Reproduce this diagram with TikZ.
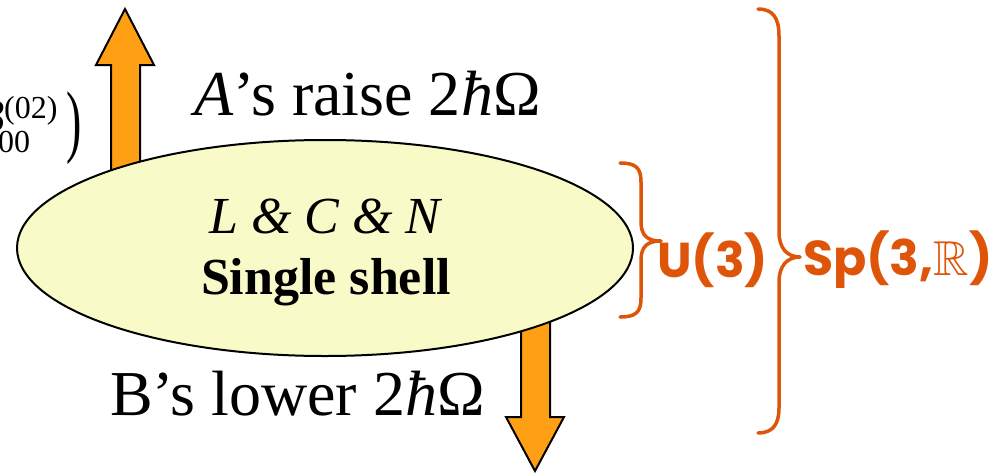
\documentclass[tikz,border=0pt]{standalone}
\usepackage{fontspec}
\usepackage{amssymb}
\setmainfont{Liberation Serif}
\newfontfamily\handfont{Poppins}
\usetikzlibrary{shapes.geometric}
\definecolor{shellfill}{RGB}{248,250,200}
\definecolor{arrowfill}{RGB}{255,160,20}
\definecolor{groupcol}{RGB}{222,84,8}
\tikzset{
  shell/.style={ellipse, draw=black, line width=2pt, fill=shellfill,
    minimum width=616pt, minimum height=216pt, inner sep=0pt},
  bigarrow/.style={draw=black, line width=2pt, fill=arrowfill, line join=miter},
  label/.style={inner sep=0pt, font=\fontsize{64}{76}\selectfont},
  shelltext/.style={inner sep=0pt, font=\fontsize{52}{60}\selectfont},
  brace/.style={draw=groupcol, line width=3.5pt, line cap=round, line join=round},
  group/.style={inner sep=0pt, text=groupcol, font=\handfont\bfseries\fontsize{49}{56}\selectfont},
  smalltext/.style={inner sep=0pt, font=\fontsize{32}{36}\selectfont}
}
\begin{document}
\begin{tikzpicture}[x=1pt,y=-1pt]
\useasboundingbox (0,0) rectangle (1007,472);
\clip (0,0) rectangle (1007,472);

% raising and lowering arrows, behind the shell
\draw[bigarrow] (111,210) -- (111,65) -- (96,65) -- (125,9) -- (154,65)
  -- (140,65) -- (140,210) -- cycle;
\draw[bigarrow] (521,290) -- (521,417) -- (506,417) -- (535,471) -- (564,417)
  -- (550,417) -- (550,290) -- cycle;

% the single shell
\node[shell] (shell) at (325,248) {};
\node[shelltext, anchor=base] (lcn) at (325,233) {\itshape L \& C \& N};
\node[shelltext, anchor=base] (single) at (326,294) {\bfseries Single shell};

% operator labels
\node[label, anchor=base west] (raise) at (194,115)
  {\textit{A}’s raise 2\textit{ħ}Ω};
\node[label, anchor=base west] (lower) at (110,415)
  {B’s lower 2\textit{ħ}Ω};

% coupled operator on the left edge
\node[inner sep=0pt, anchor=base east, font=\fontsize{48}{56}\selectfont] (bop) at (5,132) {\textit{B}};
\node[smalltext, anchor=base west] (bsup) at (4,118) {(02)};
\node[smalltext, anchor=base west] (bsub) at (-2,152) {00};
\node[inner sep=0pt, anchor=center] (bparen) at (74,128)
  {\scalebox{1}[1.75]{\fontsize{46}{46}\selectfont )}};

% group chain braces
\coordinate (u3tip) at (661,241);
\coordinate (sptip) at (800,257);
\draw[brace] (620,163) .. controls (636,163) and (641,168) .. (641,182)
  -- (641,222) .. controls (641,236) and (648,241) .. (u3tip)
  .. controls (648,241) and (641,246) .. (641,260)
  -- (641,298) .. controls (641,312) and (636,317) .. (620,317);
\draw[brace] (758,9) .. controls (773,9) and (779,18) .. (779,36)
  -- (779,232) .. controls (779,248) and (787,257) .. (sptip)
  .. controls (787,257) and (779,266) .. (779,282)
  -- (779,408) .. controls (779,424) and (773,433) .. (758,433);
\node[group, anchor=west] (u3) at ([xshift=-4pt,yshift=-19pt]u3tip) {U(3)};
\node[group, anchor=west] (sp3) at ([xshift=3pt,yshift=-3pt]sptip) {Sp(3,$\mathbb{R}$)};
\end{tikzpicture}
\end{document}
